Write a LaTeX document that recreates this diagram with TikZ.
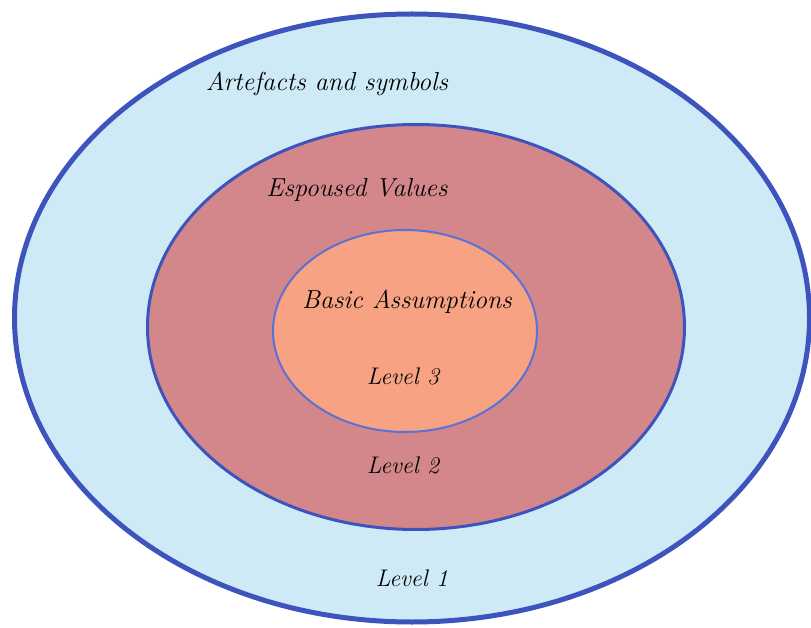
\documentclass[tikz,border=0pt]{standalone}
\usepackage{fontspec}
\setmainfont{Latin Modern Roman}
\definecolor{ringblue}{HTML}{3E54BD}
\definecolor{innerblue}{HTML}{5A72D2}
\definecolor{skyfill}{HTML}{CFEAF7}
\definecolor{rosefill}{HTML}{D4878B}
\definecolor{peachfill}{HTML}{F6A283}
\tikzset{
  x=1pt, y=-1pt,
  layer/.style={ellipse, draw, inner sep=0pt, outer sep=0pt},
  lbl/.style={font=\fontsize{26}{30}\selectfont\itshape, text=black, inner sep=0pt},
  lvl/.style={font=\fontsize{24}{28}\selectfont\itshape, text=black, inner sep=0pt}
}
\usetikzlibrary{shapes.geometric}
\begin{document}
\begin{tikzpicture}
\useasboundingbox (0,0) rectangle (811,628);
\fill[white] (0,0) rectangle (811,628);
% Level 1: artefacts
\node[layer, fill=skyfill, draw=ringblue, line width=5pt,
      minimum width=795pt, minimum height=608pt] (outer) at (412,318) {};
% Level 2: espoused values
\node[layer, fill=rosefill, draw=ringblue, line width=3pt,
      minimum width=537pt, minimum height=405pt] (middle) at (416,327) {};
% Level 3: basic assumptions
\node[layer, fill=peachfill, draw=innerblue, line width=2pt,
      minimum width=264pt, minimum height=202pt] (inner) at (405,331) {};
% captions
\node[lbl] (t1) at (327,84) {Artefacts and symbols};
\node[lbl] (t2) at (357,190) {Espoused Values};
\node[lbl] (t3) at (407,302) {Basic Assumptions};
\node[lvl] (l3) at (403,376) {Level 3};
\node[lvl] (l2) at (403,465) {Level 2};
\node[lvl] (l1) at (412,578) {Level 1};
\end{tikzpicture}
\end{document}
